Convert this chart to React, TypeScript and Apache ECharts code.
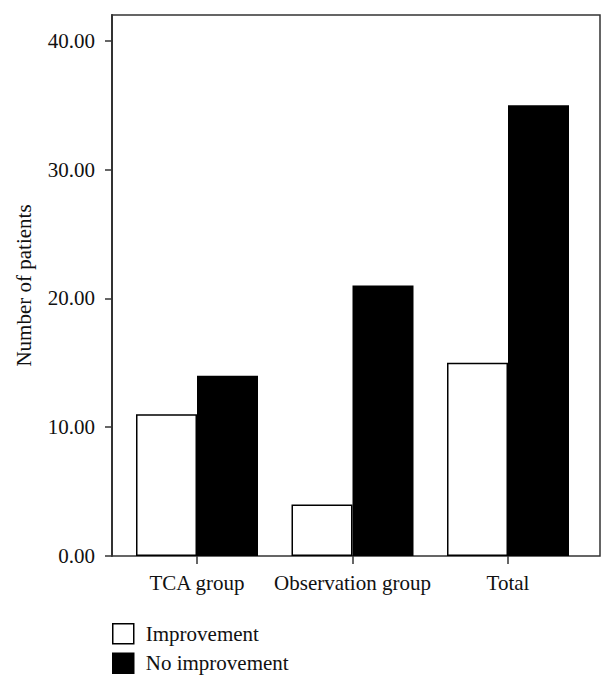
import React, { useEffect, useRef } from "react";
import * as echarts from "echarts";

const categories = ["TCA group", "Observation group", "Total"];
const improvement = [11, 4, 15];
const noImprovement = [14, 21, 35];
const yTicks = [0, 10, 20, 30, 40];

const FONT = "Liberation Serif";

export default function App() {
  const ref = useRef<HTMLDivElement>(null);
  useEffect(() => {
    if (!ref.current) return;
    const chart = echarts.init(ref.current, null, { renderer: "svg" });
    chart.setOption({
      animation: false,
      backgroundColor: "#fff",
      textStyle: { fontFamily: FONT },
      grid: [
        { left: 112, right: 14, top: 15, bottom: 134, show: true, borderColor: "#333", borderWidth: 1.5, backgroundColor: "transparent" },
        { left: 119.25, width: 466.5, top: 15, bottom: 134 },
      ],
      xAxis: [
        { gridIndex: 0, type: "value", min: 0, max: 1, show: false },
        {
          gridIndex: 1,
          type: "category",
          data: categories,
          axisLine: { show: false },
          axisTick: { show: true, alignWithLabel: true, length: 8, lineStyle: { color: "#333", width: 1.5 } },
          axisLabel: { color: "#111", fontSize: 21, fontFamily: FONT, margin: 16, interval: 0, hideOverlap: false },
        },
      ],
      yAxis: [
        {
          gridIndex: 0,
          type: "value",
          min: 0,
          max: 42,
          interval: 10,
          splitLine: { show: false },
          axisLine: { show: true, lineStyle: { color: "#333", width: 2 } },
          axisTick: { show: true, length: 7, customValues: yTicks, lineStyle: { color: "#333", width: 1.5 } },
          axisLabel: {
            customValues: yTicks,
            color: "#111",
            fontSize: 21,
            fontFamily: FONT,
            margin: 17,
            formatter: (v: number) => v.toFixed(2),
          },
          name: "Number of patients",
          nameLocation: "middle",
          nameRotate: 90,
          nameGap: 78,
          nameTextStyle: { color: "#111", fontSize: 21, fontFamily: FONT },
        },
        { gridIndex: 1, type: "value", min: 0, max: 42, show: false },
      ],
      legend: {
        orient: "vertical",
        left: 112,
        top: 623,
        padding: 0,
        itemWidth: 21,
        itemHeight: 20,
        itemGap: 8,
        icon: "rect",
        textStyle: { color: "#111", fontSize: 21, fontFamily: FONT, padding: [0, 0, 0, 7] },
        data: [
          { name: "Improvement", itemStyle: { color: "#fff", borderColor: "#000", borderWidth: 1.5 } },
          { name: "No improvement", itemStyle: { color: "#000", borderColor: "#000", borderWidth: 1.5 } },
        ],
      },
      series: [
        {
          name: "Improvement",
          type: "bar",
          xAxisIndex: 1,
          yAxisIndex: 1,
          data: improvement,
          barWidth: 61,
          barGap: "0%",
          itemStyle: { color: "#fff", borderColor: "#000", borderWidth: 1.5 },
        },
        {
          name: "No improvement",
          type: "bar",
          xAxisIndex: 1,
          yAxisIndex: 1,
          data: noImprovement,
          barWidth: 61,
          barGap: "0%",
          itemStyle: { color: "#000", borderColor: "#000", borderWidth: 1.5 },
        },
      ],
    });
    return () => chart.dispose();
  }, []);
  return <div ref={ref} style={{ width: 614, height: 690, position: "absolute", left: 0, top: 0 }} />;
}
